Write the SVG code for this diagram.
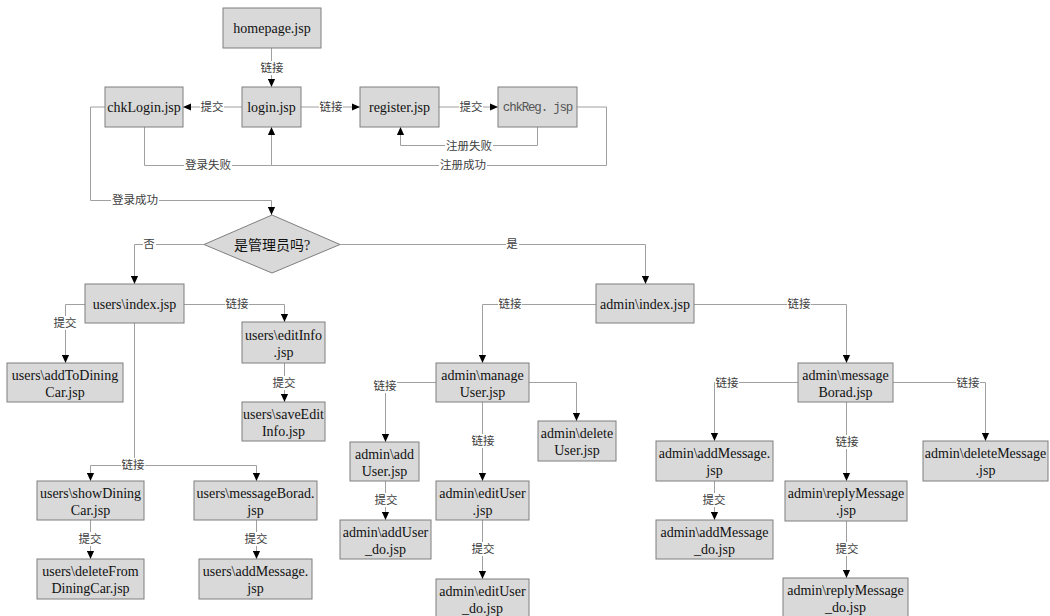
<svg xmlns="http://www.w3.org/2000/svg" width="1050" height="616" viewBox="0 0 1050 616">
<style>
.bg{fill:#ffffff}
.box{fill:#d9d9d9;stroke:#7f7f7f;stroke-width:1}
.t{font-family:"Liberation Serif","Times New Roman",serif;font-size:14px;fill:#111;text-anchor:middle}
.mono{font-family:"Liberation Mono","Courier New",monospace;font-size:12.5px;letter-spacing:-1.2px;fill:#555;text-anchor:middle}
.cjk{font-family:"Liberation Serif","Noto Sans CJK SC",serif;font-size:14px;fill:#111;text-anchor:middle}
.ln{fill:none;stroke:#a0a0a0;stroke-width:1}
.lb{font-family:"Noto Sans CJK SC",sans-serif;font-size:11.5px;fill:#404040;text-anchor:middle}
.lbg{fill:#ffffff}
</style>
<defs>
<marker id="ah" markerUnits="userSpaceOnUse" markerWidth="8" markerHeight="8" viewBox="0 0 10 10" refX="10" refY="5" orient="auto">
<path d="M0,0.5 L10,5 L0,9.5 z" fill="#000"/>
</marker>
</defs>
<rect class="bg" x="0" y="0" width="1050" height="616"/>
<g id="connectors">
<path class="ln" d="M271.5,48 V87" marker-end="url(#ah)"/>
<path class="ln" d="M242,107 H183" marker-end="url(#ah)"/>
<path class="ln" d="M301,107 H360" marker-end="url(#ah)"/>
<path class="ln" d="M439,107 H498" marker-end="url(#ah)"/>
<path class="ln" d="M537.5,127 V145.5 H400.5 V127" marker-end="url(#ah)"/>
<path class="ln" d="M577,107 H606.5 V165.5 H271.5 V127" marker-end="url(#ah)"/>
<path class="ln" d="M144.5,127 V165.5 H271.5"/>
<path class="ln" d="M105,107 H90.5 V200.5 H271.5 V215" marker-end="url(#ah)"/>
<path class="ln" d="M204,244.5 H134.5 V284" marker-end="url(#ah)"/>
<path class="ln" d="M340,244.5 H645.5 V284" marker-end="url(#ah)"/>
<path class="ln" d="M85,304.5 H65.5 V363" marker-end="url(#ah)"/>
<path class="ln" d="M184,304.5 H284.5 V322" marker-end="url(#ah)"/>
<path class="ln" d="M284.5,363 V402" marker-end="url(#ah)"/>
<path class="ln" d="M134.5,323 V465.5"/>
<path class="ln" d="M90.5,481 V465.5 H256.5 V481"/>
<path class="ln" d="M90.5,470 V481" marker-end="url(#ah)"/>
<path class="ln" d="M256.5,470 V481" marker-end="url(#ah)"/>
<path class="ln" d="M90.5,520 V559" marker-end="url(#ah)"/>
<path class="ln" d="M256.5,520 V559" marker-end="url(#ah)"/>
<path class="ln" d="M596,304.5 H482.5 V363" marker-end="url(#ah)"/>
<path class="ln" d="M694,304.5 H846.5 V363" marker-end="url(#ah)"/>
<path class="ln" d="M436,382.5 H385.5 V442" marker-end="url(#ah)"/>
<path class="ln" d="M529,382.5 H576.5 V421" marker-end="url(#ah)"/>
<path class="ln" d="M482.5,402 V481" marker-end="url(#ah)"/>
<path class="ln" d="M385.5,481 V520" marker-end="url(#ah)"/>
<path class="ln" d="M482.5,520 V579" marker-end="url(#ah)"/>
<path class="ln" d="M798,382.5 H714.5 V441" marker-end="url(#ah)"/>
<path class="ln" d="M893,382.5 H985.5 V441" marker-end="url(#ah)"/>
<path class="ln" d="M846.5,402 V481" marker-end="url(#ah)"/>
<path class="ln" d="M714.5,481 V520" marker-end="url(#ah)"/>
<path class="ln" d="M846.5,521 V578" marker-end="url(#ah)"/>
<g id="labels">
<rect class="lbg" x="260" y="61" width="24" height="14"/><text class="lb" x="272" y="72">链接</text>
<rect class="lbg" x="200" y="100" width="24" height="14"/><text class="lb" x="212" y="111">提交</text>
<rect class="lbg" x="319" y="100" width="24" height="14"/><text class="lb" x="331" y="111">链接</text>
<rect class="lbg" x="459" y="100" width="24" height="14"/><text class="lb" x="471" y="111">提交</text>
<rect class="lbg" x="445" y="139" width="48" height="14"/><text class="lb" x="469" y="150">注册失败</text>
<rect class="lbg" x="439" y="158" width="48" height="14"/><text class="lb" x="463" y="169">注册成功</text>
<rect class="lbg" x="184" y="158" width="48" height="14"/><text class="lb" x="208" y="169">登录失败</text>
<rect class="lbg" x="111" y="193" width="48" height="14"/><text class="lb" x="135" y="204">登录成功</text>
<rect class="lbg" x="143" y="237" width="13" height="14"/><text class="lb" x="149" y="248">否</text>
<rect class="lbg" x="506" y="237" width="13" height="14"/><text class="lb" x="512" y="248">是</text>
<rect class="lbg" x="53" y="316" width="24" height="14"/><text class="lb" x="65" y="327">提交</text>
<rect class="lbg" x="225" y="297" width="24" height="14"/><text class="lb" x="237" y="308">链接</text>
<rect class="lbg" x="272" y="376" width="24" height="14"/><text class="lb" x="284" y="387">提交</text>
<rect class="lbg" x="121" y="458" width="24" height="14"/><text class="lb" x="133" y="469">链接</text>
<rect class="lbg" x="78" y="532" width="24" height="14"/><text class="lb" x="90" y="543">提交</text>
<rect class="lbg" x="244" y="532" width="24" height="14"/><text class="lb" x="256" y="543">提交</text>
<rect class="lbg" x="498" y="297" width="24" height="14"/><text class="lb" x="510" y="308">链接</text>
<rect class="lbg" x="787" y="297" width="24" height="14"/><text class="lb" x="799" y="308">链接</text>
<rect class="lbg" x="373" y="379" width="24" height="14"/><text class="lb" x="385" y="390">链接</text>
<rect class="lbg" x="471" y="434" width="24" height="14"/><text class="lb" x="483" y="445">链接</text>
<rect class="lbg" x="374" y="493" width="24" height="14"/><text class="lb" x="386" y="504">提交</text>
<rect class="lbg" x="471" y="542" width="24" height="14"/><text class="lb" x="483" y="553">提交</text>
<rect class="lbg" x="715" y="376" width="24" height="14"/><text class="lb" x="727" y="387">链接</text>
<rect class="lbg" x="956" y="376" width="24" height="14"/><text class="lb" x="968" y="387">链接</text>
<rect class="lbg" x="835" y="435" width="24" height="14"/><text class="lb" x="847" y="446">链接</text>
<rect class="lbg" x="702" y="493" width="24" height="14"/><text class="lb" x="714" y="504">提交</text>
<rect class="lbg" x="835" y="542" width="24" height="14"/><text class="lb" x="847" y="553">提交</text>
</g>
</g>
<g id="homepage"><rect class="box" x="223" y="8" width="98" height="40"/><text class="t" x="272" y="33">homepage.jsp</text></g>
<g id="login"><rect class="box" x="242" y="87" width="59" height="40"/><text class="t" x="271.5" y="112">login.jsp</text></g>
<g id="chkLogin"><rect class="box" x="105" y="87" width="78" height="40"/><text class="t" x="144" y="112">chkLogin.jsp</text></g>
<g id="register"><rect class="box" x="360" y="87" width="79" height="40"/><text class="t" x="399.5" y="112">register.jsp</text></g>
<g id="chkReg"><rect class="box" x="498" y="87" width="79" height="40"/><text class="mono" x="537.5" y="111">chkReg. jsp</text></g>
<g id="isAdmin"><polygon class="box" points="272,215 340,244.5 272,273 204,244.5"/><text class="cjk" x="272" y="249.5">是管理员吗?</text></g>
<g id="usersIndex"><rect class="box" x="85" y="284" width="99" height="39"/><text class="t" x="134.5" y="308.5">users\index.jsp</text></g>
<g id="addToDiningCar"><rect class="box" x="7" y="363" width="116" height="39"/><text class="t" x="65" y="380">users\addToDining</text><text class="t" x="65" y="397">Car.jsp</text></g>
<g id="editInfo"><rect class="box" x="242" y="322" width="83" height="41"/><text class="t" x="283.5" y="340">users\editInfo</text><text class="t" x="283.5" y="357">.jsp</text></g>
<g id="saveEditInfo"><rect class="box" x="242" y="402" width="83" height="39"/><text class="t" x="283.5" y="419">users\saveEdit</text><text class="t" x="283.5" y="436">Info.jsp</text></g>
<g id="showDiningCar"><rect class="box" x="37" y="481" width="107" height="39"/><text class="t" x="90.5" y="498">users\showDining</text><text class="t" x="90.5" y="515">Car.jsp</text></g>
<g id="usersMessageBorad"><rect class="box" x="194" y="481" width="123" height="39"/><text class="t" x="255.5" y="498">users\messageBorad.</text><text class="t" x="255.5" y="515">jsp</text></g>
<g id="deleteFromDiningCar"><rect class="box" x="37" y="559" width="107" height="40"/><text class="t" x="90.5" y="576">users\deleteFrom</text><text class="t" x="90.5" y="593">DiningCar.jsp</text></g>
<g id="usersAddMessage"><rect class="box" x="199" y="559" width="113" height="40"/><text class="t" x="255.5" y="576">users\addMessage.</text><text class="t" x="255.5" y="593">jsp</text></g>
<g id="adminIndex"><rect class="box" x="596" y="284" width="98" height="39"/><text class="t" x="645" y="308.5">admin\index.jsp</text></g>
<g id="manageUser"><rect class="box" x="436" y="363" width="93" height="39"/><text class="t" x="482.5" y="380">admin\manage</text><text class="t" x="482.5" y="397">User.jsp</text></g>
<g id="addUser"><rect class="box" x="350" y="442" width="69" height="39"/><text class="t" x="384.5" y="459">admin\add</text><text class="t" x="384.5" y="476">User.jsp</text></g>
<g id="addUserDo"><rect class="box" x="340" y="520" width="91" height="39"/><text class="t" x="385.5" y="537">admin\addUser</text><text class="t" x="385.5" y="554">_do.jsp</text></g>
<g id="editUser"><rect class="box" x="436" y="481" width="93" height="39"/><text class="t" x="482.5" y="498">admin\editUser</text><text class="t" x="482.5" y="515">.jsp</text></g>
<g id="editUserDo"><rect class="box" x="436" y="579" width="93" height="39"/><text class="t" x="482.5" y="596">admin\editUser</text><text class="t" x="482.5" y="613">_do.jsp</text></g>
<g id="deleteUser"><rect class="box" x="538" y="421" width="78" height="40"/><text class="t" x="577" y="438">admin\delete</text><text class="t" x="577" y="455">User.jsp</text></g>
<g id="adminMessageBorad"><rect class="box" x="798" y="363" width="95" height="39"/><text class="t" x="845.5" y="380">admin\message</text><text class="t" x="845.5" y="397">Borad.jsp</text></g>
<g id="adminAddMessage"><rect class="box" x="656" y="441" width="117" height="40"/><text class="t" x="714.5" y="458">admin\addMessage.</text><text class="t" x="714.5" y="475">jsp</text></g>
<g id="deleteMessage"><rect class="box" x="923" y="441" width="125" height="40"/><text class="t" x="985.5" y="458">admin\deleteMessage</text><text class="t" x="985.5" y="475">.jsp</text></g>
<g id="replyMessage"><rect class="box" x="785" y="481" width="122" height="40"/><text class="t" x="846" y="498">admin\replyMessage</text><text class="t" x="846" y="515">.jsp</text></g>
<g id="addMessageDo"><rect class="box" x="656" y="520" width="117" height="39"/><text class="t" x="714.5" y="537">admin\addMessage</text><text class="t" x="714.5" y="554">_do.jsp</text></g>
<g id="replyMessageDo"><rect class="box" x="783" y="578" width="125" height="40"/><text class="t" x="845.5" y="595">admin\replyMessage</text><text class="t" x="845.5" y="612">_do.jsp</text></g>
</svg>
